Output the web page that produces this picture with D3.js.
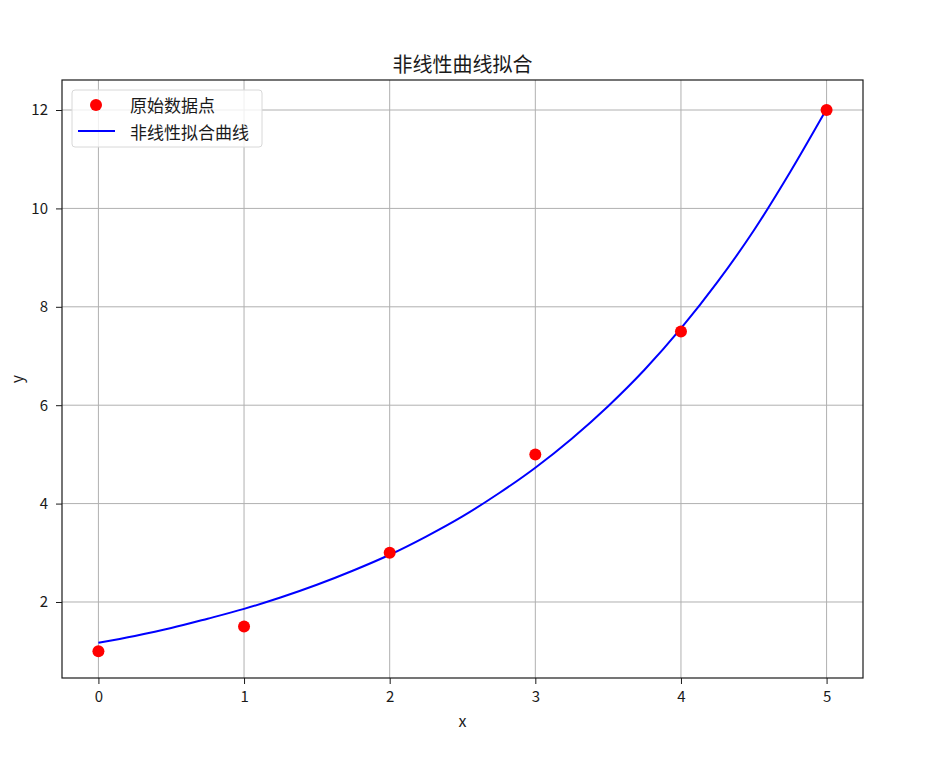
<!DOCTYPE html>
<html><head><meta charset="utf-8">
<script src="https://cdn.jsdelivr.net/npm/d3@7"></script>
<style>body{margin:0;background:#fff}</style>
</head><body>
<script>
const pointX = [0, 1, 2, 3, 4, 5];
const pointY = [1, 1.5, 3, 5, 7.5, 12];
const curveX = [0,0.25,0.5,0.75,1,1.25,1.5,1.75,2,2.25,2.5,2.75,3,3.25,3.5,3.75,4,4.25,4.5,4.75,5];
const curveY = [1.17,1.31,1.47,1.66,1.86,2.09,2.35,2.64,2.96,3.33,3.74,4.21,4.73,5.32,5.98,6.72,7.56,8.50,9.55,10.74,12.02];
const xTicks = [0,1,2,3,4,5];
const yTicks = [2,4,6,8,10,12];
const titleText = "非线性曲线拟合";
const legendLabels = ["原始数据点", "非线性拟合曲线"];

const W = 948, H = 780;
const L = 62, R = 863, T = 80, B = 678;
const font = "'Noto Sans CJK SC', 'DejaVu Sans', sans-serif";

const svg = d3.select("body").append("svg").attr("width", W).attr("height", H)
  .style("font-family", font);

const x = d3.scaleLinear().domain([-0.25, 5.25]).range([L, R]);
const y = d3.scaleLinear().domain([0.455, 12.61]).range([B, T]);

// grid
const g = svg.append("g");
g.selectAll(".gx").data(xTicks).enter().append("line")
  .attr("x1", d => x(d)).attr("x2", d => x(d)).attr("y1", T).attr("y2", B)
  .attr("stroke", "#b0b0b0").attr("stroke-width", 1);
g.selectAll(".gy").data(yTicks).enter().append("line")
  .attr("y1", d => y(d)).attr("y2", d => y(d)).attr("x1", L).attr("x2", R)
  .attr("stroke", "#b0b0b0").attr("stroke-width", 1);

// axes
const xAxis = d3.axisBottom(x).tickValues(xTicks).tickFormat(d3.format("d")).tickSize(6).tickPadding(7);
const yAxis = d3.axisLeft(y).tickValues(yTicks).tickFormat(d3.format("d")).tickSize(6).tickPadding(8);
const gx = svg.append("g").attr("transform", `translate(0,${B})`).call(xAxis);
const gy = svg.append("g").attr("transform", `translate(${L},0)`).call(yAxis);
[gx, gy].forEach(a => {
  a.select(".domain").remove();
  a.selectAll("text").attr("font-size", 15).attr("fill", "#1a1a1a").style("font-family", font);
  a.selectAll("line").attr("stroke", "#1a1a1a");
});

// data
const line = d3.line().x((d, i) => x(curveX[i])).y(d => y(d)).curve(d3.curveMonotoneX);
svg.append("path").datum(curveY).attr("d", line).attr("fill", "none")
  .attr("stroke", "#0000ff").attr("stroke-width", 2);

svg.selectAll(".pt").data(pointY).enter().append("circle")
  .attr("cx", (d, i) => x(pointX[i])).attr("cy", d => y(d)).attr("r", 6).attr("fill", "#ff0000");

// frame
svg.append("rect").attr("x", L).attr("y", T).attr("width", R - L).attr("height", B - T)
  .attr("fill", "none").attr("stroke", "#1a1a1a").attr("stroke-width", 1.2);

// labels
svg.append("text").attr("x", (L + R) / 2).attr("y", 63).attr("text-anchor", "middle")
  .attr("dominant-baseline", "central")
  .attr("font-size", 20).attr("fill", "#1a1a1a").text(titleText);
svg.append("text").attr("x", (L + R) / 2).attr("y", 720).attr("text-anchor", "middle")
  .attr("dominant-baseline", "central")
  .attr("font-size", 16).attr("fill", "#1a1a1a").text("x");
svg.append("text").attr("transform", `translate(16,${(T + B) / 2}) rotate(-90)`).attr("text-anchor", "middle")
  .attr("dominant-baseline", "central")
  .attr("font-size", 16).attr("fill", "#1a1a1a").text("y");

// legend
const lg = svg.append("g");
lg.append("rect").attr("x", 72).attr("y", 90).attr("width", 190).attr("height", 57).attr("rx", 3)
  .attr("fill", "#fff").attr("fill-opacity", 0.8).attr("stroke", "#d8d8d8");
lg.append("circle").attr("cx", 96).attr("cy", 105).attr("r", 6).attr("fill", "#ff0000");
lg.append("line").attr("x1", 78).attr("x2", 115).attr("y1", 131).attr("y2", 131)
  .attr("stroke", "#0000ff").attr("stroke-width", 2);
lg.append("text").attr("x", 130).attr("y", 104).attr("dominant-baseline", "central")
  .attr("font-size", 17).attr("fill", "#1a1a1a").text(legendLabels[0]);
lg.append("text").attr("x", 130).attr("y", 131).attr("dominant-baseline", "central")
  .attr("font-size", 17).attr("fill", "#1a1a1a").text(legendLabels[1]);
</script>
</body></html>
